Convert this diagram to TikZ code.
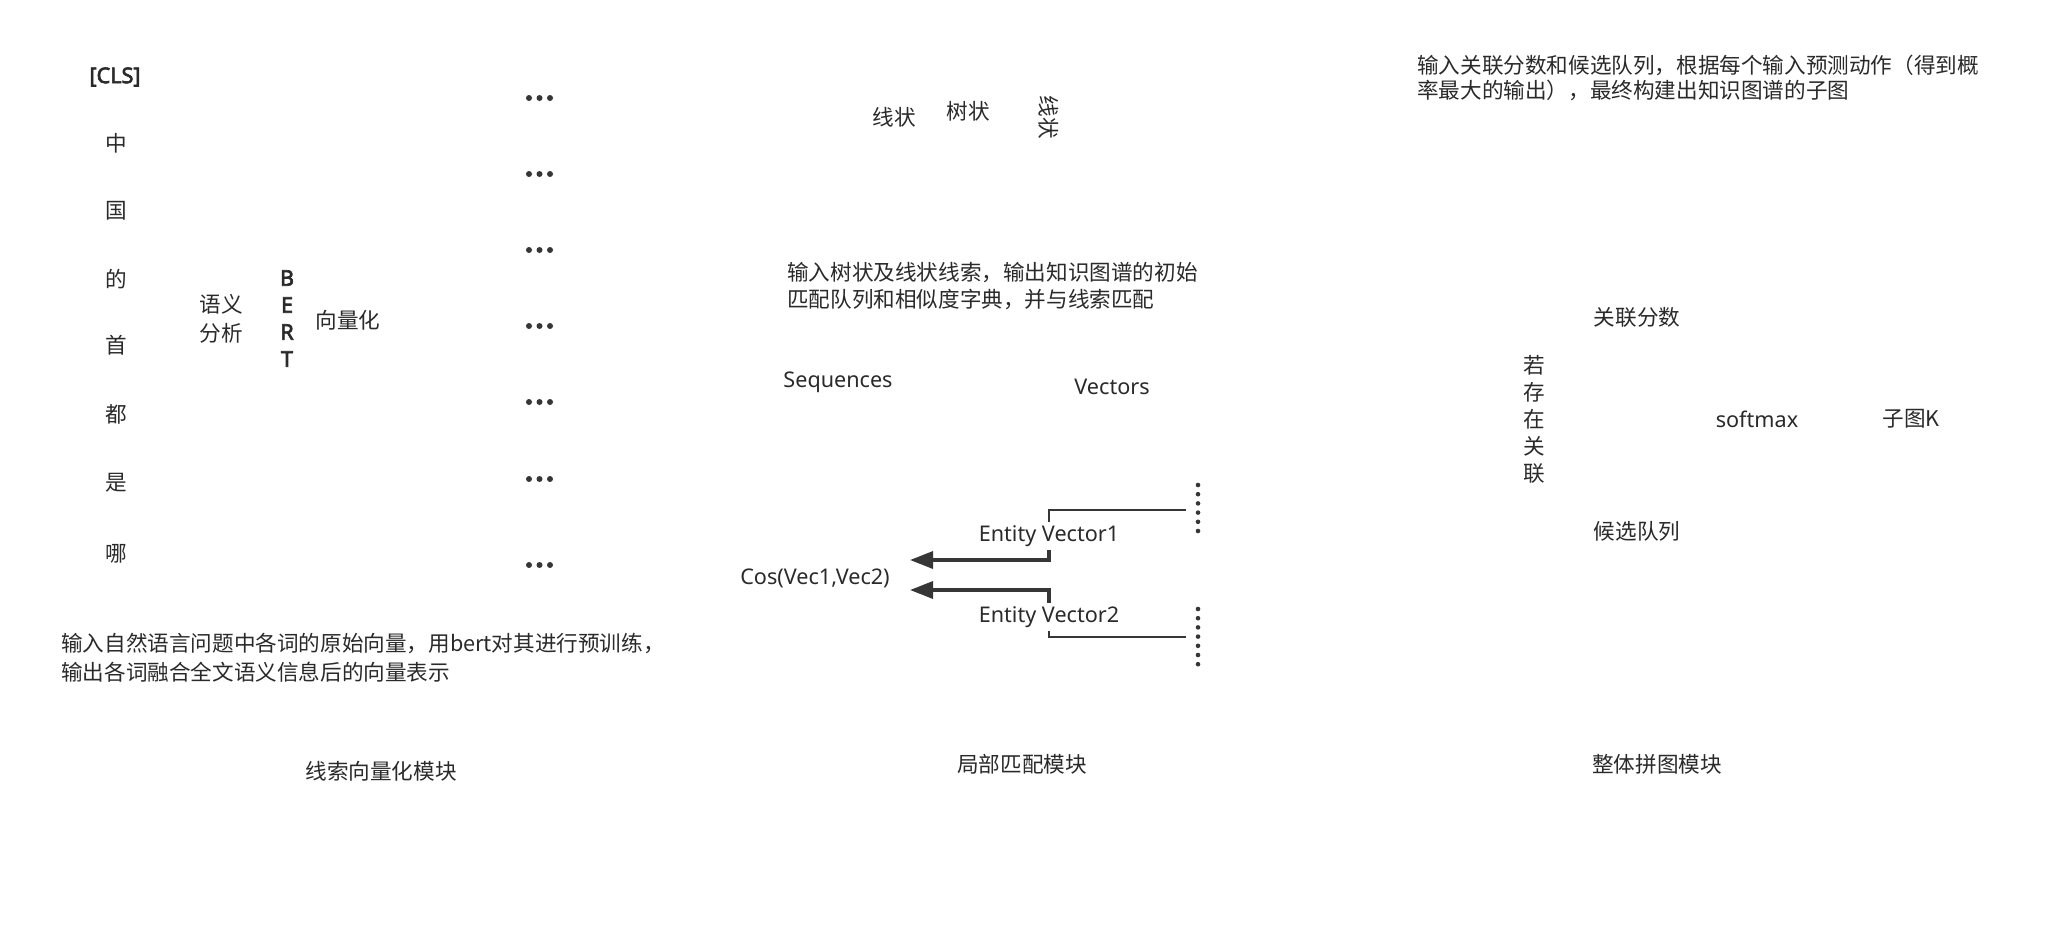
\documentclass[tikz,border=0pt]{standalone}
\usepackage{fontspec}
\setmainfont{Noto Sans CJK SC}
\newfontfamily\lat{Noto Sans}
\newfontfamily\latb[FakeBold=3]{Noto Sans}
\usetikzlibrary{arrows.meta}
\definecolor{txt}{HTML}{2A2A2A}
\definecolor{ln}{HTML}{363636}
\newcommand{\fsz}[2]{\fontsize{#1pt}{#2pt}\selectfont}
\tikzset{
  lbl/.style={inner sep=0pt, text=txt, font=\fsz{21.6}{26}},
  latlbl/.style={lbl, font=\lat\fsz{21.6}{26}},
  boldlbl/.style={lbl, font=\latb\fsz{21.6}{26}},
  para/.style={lbl, anchor=west, align=left},
  bracket/.style={draw=ln, line width=2.6pt},
  arr/.style={draw=ln, line width=3.4pt, -{Triangle[length=23pt,width=17pt]}},
  vdots/.style={draw=ln, line width=4.6pt, line cap=round, dash pattern=on 0pt off 9.2pt},
}
\begin{document}
\begin{tikzpicture}[x=1pt,y=-1pt]
\useasboundingbox (0,0) rectangle (2052,948);
\fill[white] (0,0) rectangle (2052,948);
% ---- left module
\node[boldlbl] (cls) at (115,77) {[CLS]};
\foreach \t/\y [count=\i] in {中/143,国/211,的/279,首/345,都/414,是/483,哪/554}
  \node[lbl] (tok\i) at (116,\y) {\t};
\node[lbl, align=center, font=\fsz{21.6}{29}] (sem) at (221,319) {语义\\分析};
\node[boldlbl, align=center, font=\latb\fsz{21.6}{27}] (bert) at (287,318.5) {B\\E\\R\\T};
\node[lbl] (vec) at (348,320) {向量化};
\foreach \y in {98,174,250,326,402,479,565}
  \foreach \x in {529,539.5,550}
    \fill[ln] (\x,\y) circle[radius=3pt];
\node[para, font=\fsz{21.6}{29}] (p1) at (61,657.5) {输入自然语言问题中各词的原始向量，用bert对其进行预训练，\\输出各词融合全文语义信息后的向量表示};
\node[lbl] (m1) at (381,771) {线索向量化模块};
% ---- middle module
\node[lbl] (xz1) at (894,117) {线状};
\node[lbl] (sz) at (968,111) {树状};
\node[lbl, rotate=-90] (xz2) at (1049,117) {线状};
\node[para, font=\fsz{21.6}{27}] (p2) at (787,286.5) {输入树状及线状线索，输出知识图谱的初始\\匹配队列和相似度字典，并与线索匹配};
\node[latlbl] (seq) at (838,382) {Sequences};
\node[latlbl] (vecs) at (1112,387) {Vectors};
\node[latlbl, inner ysep=3pt] (ev1) at (1049,536) {Entity Vector1};
\node[latlbl, inner ysep=3pt] (ev2) at (1049,617) {Entity Vector2};
\node[latlbl] (cos) at (815,578) {Cos(Vec1,Vec2)};
\coordinate (u1) at (1186,510);
\coordinate (u2) at (1186,637);
\coordinate (a1) at (910,560);
\coordinate (a2) at (910,590);
\coordinate (d1t) at (1198,485);
\coordinate (d1b) at (1198,540);
\coordinate (d2t) at (1198,609);
\coordinate (d2b) at (1198,665);
\draw[bracket] (ev1.north) |- (u1);
\draw[bracket] (ev2.south) |- (u2);
\draw[arr] (ev1.south) |- (a1);
\draw[arr] (ev2.north) |- (a2);
\draw[vdots] (d1t) -- (d1b);
\draw[vdots] (d2t) -- (d2b);
\node[lbl] (m2) at (1022,764) {局部匹配模块};
% ---- right module
\node[para, font=\fsz{21.6}{25}] (p3) at (1417,77.5) {输入关联分数和候选队列，根据每个输入预测动作（得到概\\率最大的输出），最终构建出知识图谱的子图};
\node[lbl] (score) at (1637,317) {关联分数};
\node[lbl, align=center, font=\fsz{21.6}{27}] (ifrel) at (1534,419) {若\\存\\在\\关\\联};
\node[latlbl] (sm) at (1757,419) {softmax};
\node[lbl] (subk) at (1911,419) {子图K};
\node[lbl] (cand) at (1637,531) {候选队列};
\node[lbl] (m3) at (1657,764) {整体拼图模块};
\end{tikzpicture}
\end{document}
